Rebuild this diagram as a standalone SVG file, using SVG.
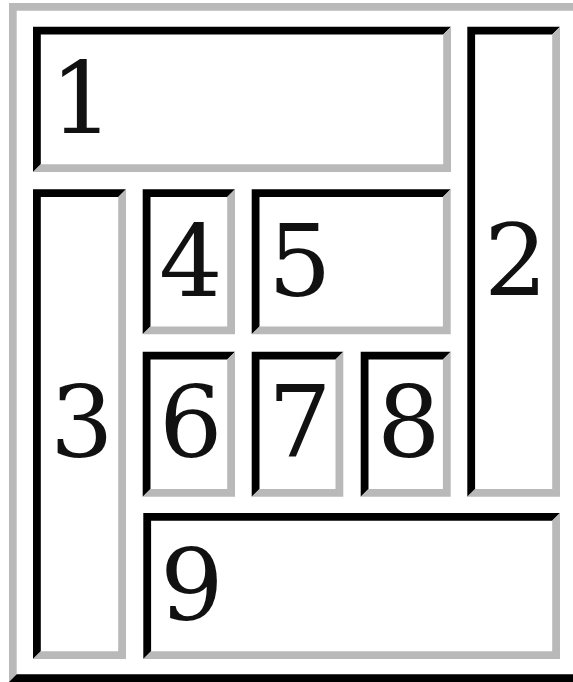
<svg xmlns="http://www.w3.org/2000/svg" width="573" height="682" viewBox="0 0 573 682">
<style>
.dk{fill:#000000}
.lt{fill:#b9b9b9}
text{font-family:"DejaVu Serif","Liberation Serif",serif;font-size:100px;fill:#111111}
</style>
<rect width="573" height="682" fill="#ffffff"/>
<g id="table">
<polygon class="lt" points="9,3 600,3 592.3,10.7 16.7,10.7 16.7,674.3 9,682"/>
<polygon class="dk" points="600,3 600,682 9,682 16.7,674.3 592.3,674.3 592.3,10.7"/>
</g>
<g id="cell1">
<polygon class="dk" points="33,26.7 451,26.7 443.2,34.5 40.8,34.5 40.8,164.2 33,172"/>
<polygon class="lt" points="451,26.7 451,172 33,172 40.8,164.2 443.2,164.2 443.2,34.5"/>
<text x="50" y="133">1</text>
</g>
<g id="cell2">
<polygon class="dk" points="467.3,26.7 560,26.7 552.2,34.5 475.1,34.5 475.1,488.9 467.3,496.7"/>
<polygon class="lt" points="560,26.7 560,496.7 467.3,496.7 475.1,488.9 552.2,488.9 552.2,34.5"/>
<text x="484" y="295">2</text>
</g>
<g id="cell3">
<polygon class="dk" points="33,189.3 126,189.3 118.2,197.1 40.8,197.1 40.8,651.2 33,659"/>
<polygon class="lt" points="126,189.3 126,659 33,659 40.8,651.2 118.2,651.2 118.2,197.1"/>
<text x="50" y="457">3</text>
</g>
<g id="cell4">
<polygon class="dk" points="142.7,189.3 235,189.3 227.2,197.1 150.5,197.1 150.5,326.5 142.7,334.3"/>
<polygon class="lt" points="235,189.3 235,334.3 142.7,334.3 150.5,326.5 227.2,326.5 227.2,197.1"/>
<text x="159" y="296">4</text>
</g>
<g id="cell5">
<polygon class="dk" points="251.7,189.3 450.7,189.3 442.9,197.1 259.5,197.1 259.5,326.5 251.7,334.3"/>
<polygon class="lt" points="450.7,189.3 450.7,334.3 251.7,334.3 259.5,326.5 442.9,326.5 442.9,197.1"/>
<text x="268" y="296">5</text>
</g>
<g id="cell6">
<polygon class="dk" points="142.7,351.7 235,351.7 227.2,359.5 150.5,359.5 150.5,488.9 142.7,496.7"/>
<polygon class="lt" points="235,351.7 235,496.7 142.7,496.7 150.5,488.9 227.2,488.9 227.2,359.5"/>
<text x="159" y="457">6</text>
</g>
<g id="cell7">
<polygon class="dk" points="251.7,351.7 343.3,351.7 335.5,359.5 259.5,359.5 259.5,488.9 251.7,496.7"/>
<polygon class="lt" points="343.3,351.7 343.3,496.7 251.7,496.7 259.5,488.9 335.5,488.9 335.5,359.5"/>
<text x="268" y="457">7</text>
</g>
<g id="cell8">
<polygon class="dk" points="360.7,351.7 450.7,351.7 442.9,359.5 368.5,359.5 368.5,488.9 360.7,496.7"/>
<polygon class="lt" points="450.7,351.7 450.7,496.7 360.7,496.7 368.5,488.9 442.9,488.9 442.9,359.5"/>
<text x="377" y="457">8</text>
</g>
<g id="cell9">
<polygon class="dk" points="143.3,513 560,513 552.2,520.8 151.1,520.8 151.1,651.2 143.3,659"/>
<polygon class="lt" points="560,513 560,659 143.3,659 151.1,651.2 552.2,651.2 552.2,520.8"/>
<text x="160" y="620">9</text>
</g>
<g id="connectors"/>
</svg>
